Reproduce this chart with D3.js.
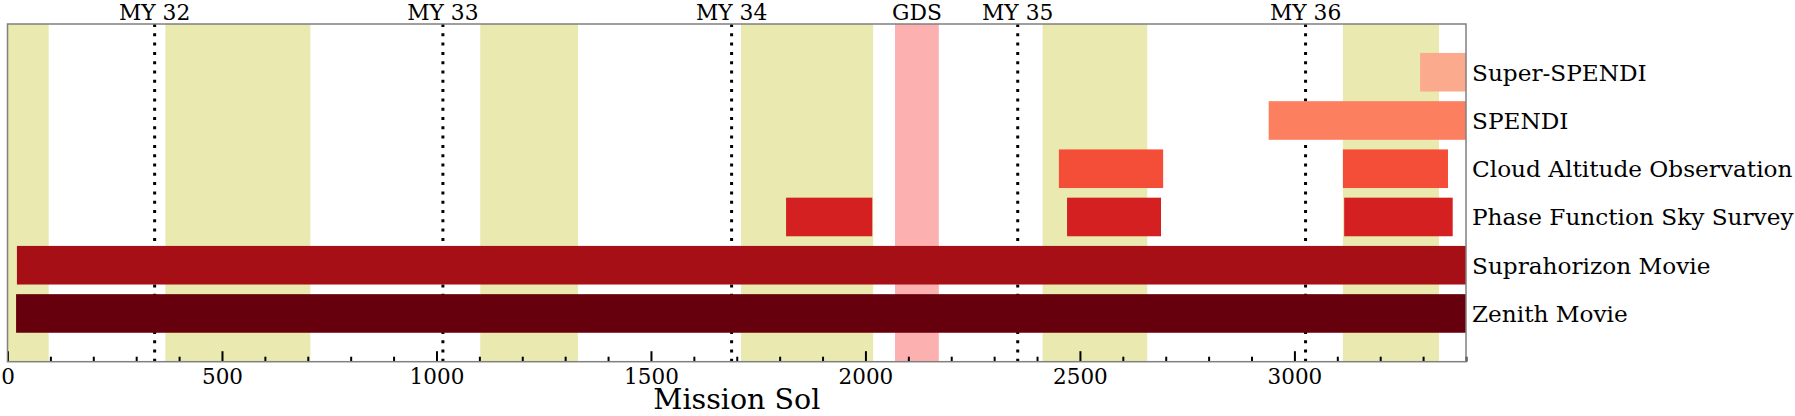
<!DOCTYPE html>
<html>
<head>
<meta charset="utf-8">
<script src="https://cdn.jsdelivr.net/npm/d3@7"></script>
<style>
  html, body { margin: 0; padding: 0; background: #fff; }
  svg { display: block; }
  text { font-family: "DejaVu Serif", serif; fill: #000; }
</style>
</head>
<body>
<script>
// ---------- data ----------
const categories = ["Zenith Movie", "Suprahorizon Movie", "Phase Function Sky Survey",
                    "Cloud Altitude Observation", "SPENDI", "Super-SPENDI"];
const categoryColors = ["#67000d", "#a70f16", "#d42020", "#f44e39", "#fc7f5f", "#fcaa8e"];

// observation campaigns (category index, start sol, end sol)
const barCategory = [0, 1, 2, 2, 2, 3, 3, 4, 5];
const barStart    = [20, 22, 1815, 2470, 3116, 2451, 3113, 2940, 3293];
const barEnd      = [3400, 3400, 2016, 2689, 3369, 2694, 3358, 3400, 3400];

// aphelion-season shaded bands (start sol, end sol)
const bandStart = [0, 368, 1102, 1710, 2413, 3113];
const bandEnd   = [96, 706, 1330, 2018, 2657, 3337];

// global dust storm
const gdsStart = 2069, gdsEnd = 2171, gdsLabel = "GDS";

// Mars year boundaries
const myLabels = ["MY 32", "MY 33", "MY 34", "MY 35", "MY 36"];
const mySols   = [343, 1015, 1688, 2355, 3026];

const majorTicks = [0, 500, 1000, 1500, 2000, 2500, 3000];
const xDomain = [0, 3400];
const xLabel = "Mission Sol";

// ---------- layout ----------
const W = 1795, H = 416;
const pL = 7.5, pR = 1466, pT = 24, pB = 361.7;

const svg = d3.select("body").append("svg").attr("width", W).attr("height", H);

const x = d3.scaleLinear().domain(xDomain).range([pL, pR]);
const y = d3.scaleLinear().domain([-1, categories.length]).range([pB, pT]);

svg.append("clipPath").attr("id", "clip").append("rect")
  .attr("x", pL).attr("y", pT).attr("width", pR - pL).attr("height", pB - pT);
const plot = svg.append("g").attr("clip-path", "url(#clip)");

// bands
plot.selectAll("rect.band").data(bandStart.map((s, i) => [s, bandEnd[i]])).enter()
  .append("rect").attr("class", "band")
  .attr("x", d => x(d[0])).attr("width", d => x(d[1]) - x(d[0]))
  .attr("y", pT).attr("height", pB - pT)
  .attr("fill", "#e9e9b0");

// GDS
plot.append("rect")
  .attr("x", x(gdsStart)).attr("width", x(gdsEnd) - x(gdsStart))
  .attr("y", pT).attr("height", pB - pT)
  .attr("fill", "#fdb0b0");

// Mars year dotted lines
plot.selectAll("line.my").data(mySols).enter().append("line")
  .attr("x1", d => x(d)).attr("x2", d => x(d))
  .attr("y1", pT).attr("y2", pB)
  .attr("stroke", "#000").attr("stroke-width", 3)
  .attr("stroke-dasharray", "3 6.3");

// bars
const bh = 0.8;
plot.selectAll("rect.bar").data(barCategory.map((c, i) => ({c, s: barStart[i], e: barEnd[i]}))).enter()
  .append("rect").attr("class", "bar")
  .attr("x", d => x(d.s)).attr("width", d => x(d.e) - x(d.s))
  .attr("y", d => y(d.c + bh / 2)).attr("height", d => y(d.c - bh / 2) - y(d.c + bh / 2))
  .attr("fill", d => categoryColors[d.c]);

// axes (inward ticks)
const minorTicks = d3.range(0, 3401, 100).filter(v => v % 500 !== 0);
const gMinor = svg.append("g").attr("transform", `translate(0,${pB})`)
  .call(d3.axisBottom(x).tickValues(minorTicks).tickFormat("").tickSize(-5));
const gMajor = svg.append("g").attr("transform", `translate(0,${pB})`)
  .call(d3.axisBottom(x).tickValues(majorTicks).tickFormat(d3.format("d")).tickSize(-10.5).tickPadding(7.5));
[gMinor, gMajor].forEach(g => {
  g.select(".domain").remove();
  g.selectAll(".tick line").attr("stroke", "#000").attr("stroke-width", 2);
});
gMajor.selectAll(".tick text").style("font-size", "21.5px").style("font-family", "DejaVu Serif");

// spines
svg.append("rect")
  .attr("x", pL).attr("y", pT).attr("width", pR - pL).attr("height", pB - pT)
  .attr("fill", "none").attr("stroke", "#808080").attr("stroke-width", 1.5);

// category labels on the right
svg.selectAll("text.cat").data(categories).enter().append("text")
  .attr("class", "cat")
  .attr("x", pR + 6).attr("y", (d, i) => y(i))
  .attr("dominant-baseline", "central")
  .style("font-size", "23.2px")
  .text(d => d);

// Mars year labels
svg.selectAll("text.my").data(myLabels).enter().append("text")
  .attr("class", "my")
  .attr("x", (d, i) => x(mySols[i])).attr("y", 19.8)
  .attr("text-anchor", "middle")
  .style("font-size", "21.8px")
  .text(d => d);

svg.append("text")
  .attr("x", x((gdsStart + gdsEnd) / 2)).attr("y", 19.8)
  .attr("text-anchor", "middle")
  .style("font-size", "21.8px")
  .text(gdsLabel);

// x label
svg.append("text")
  .attr("x", (pL + pR) / 2).attr("y", 409.3)
  .attr("text-anchor", "middle")
  .style("font-size", "28.5px")
  .text(xLabel);
</script>
</body>
</html>
